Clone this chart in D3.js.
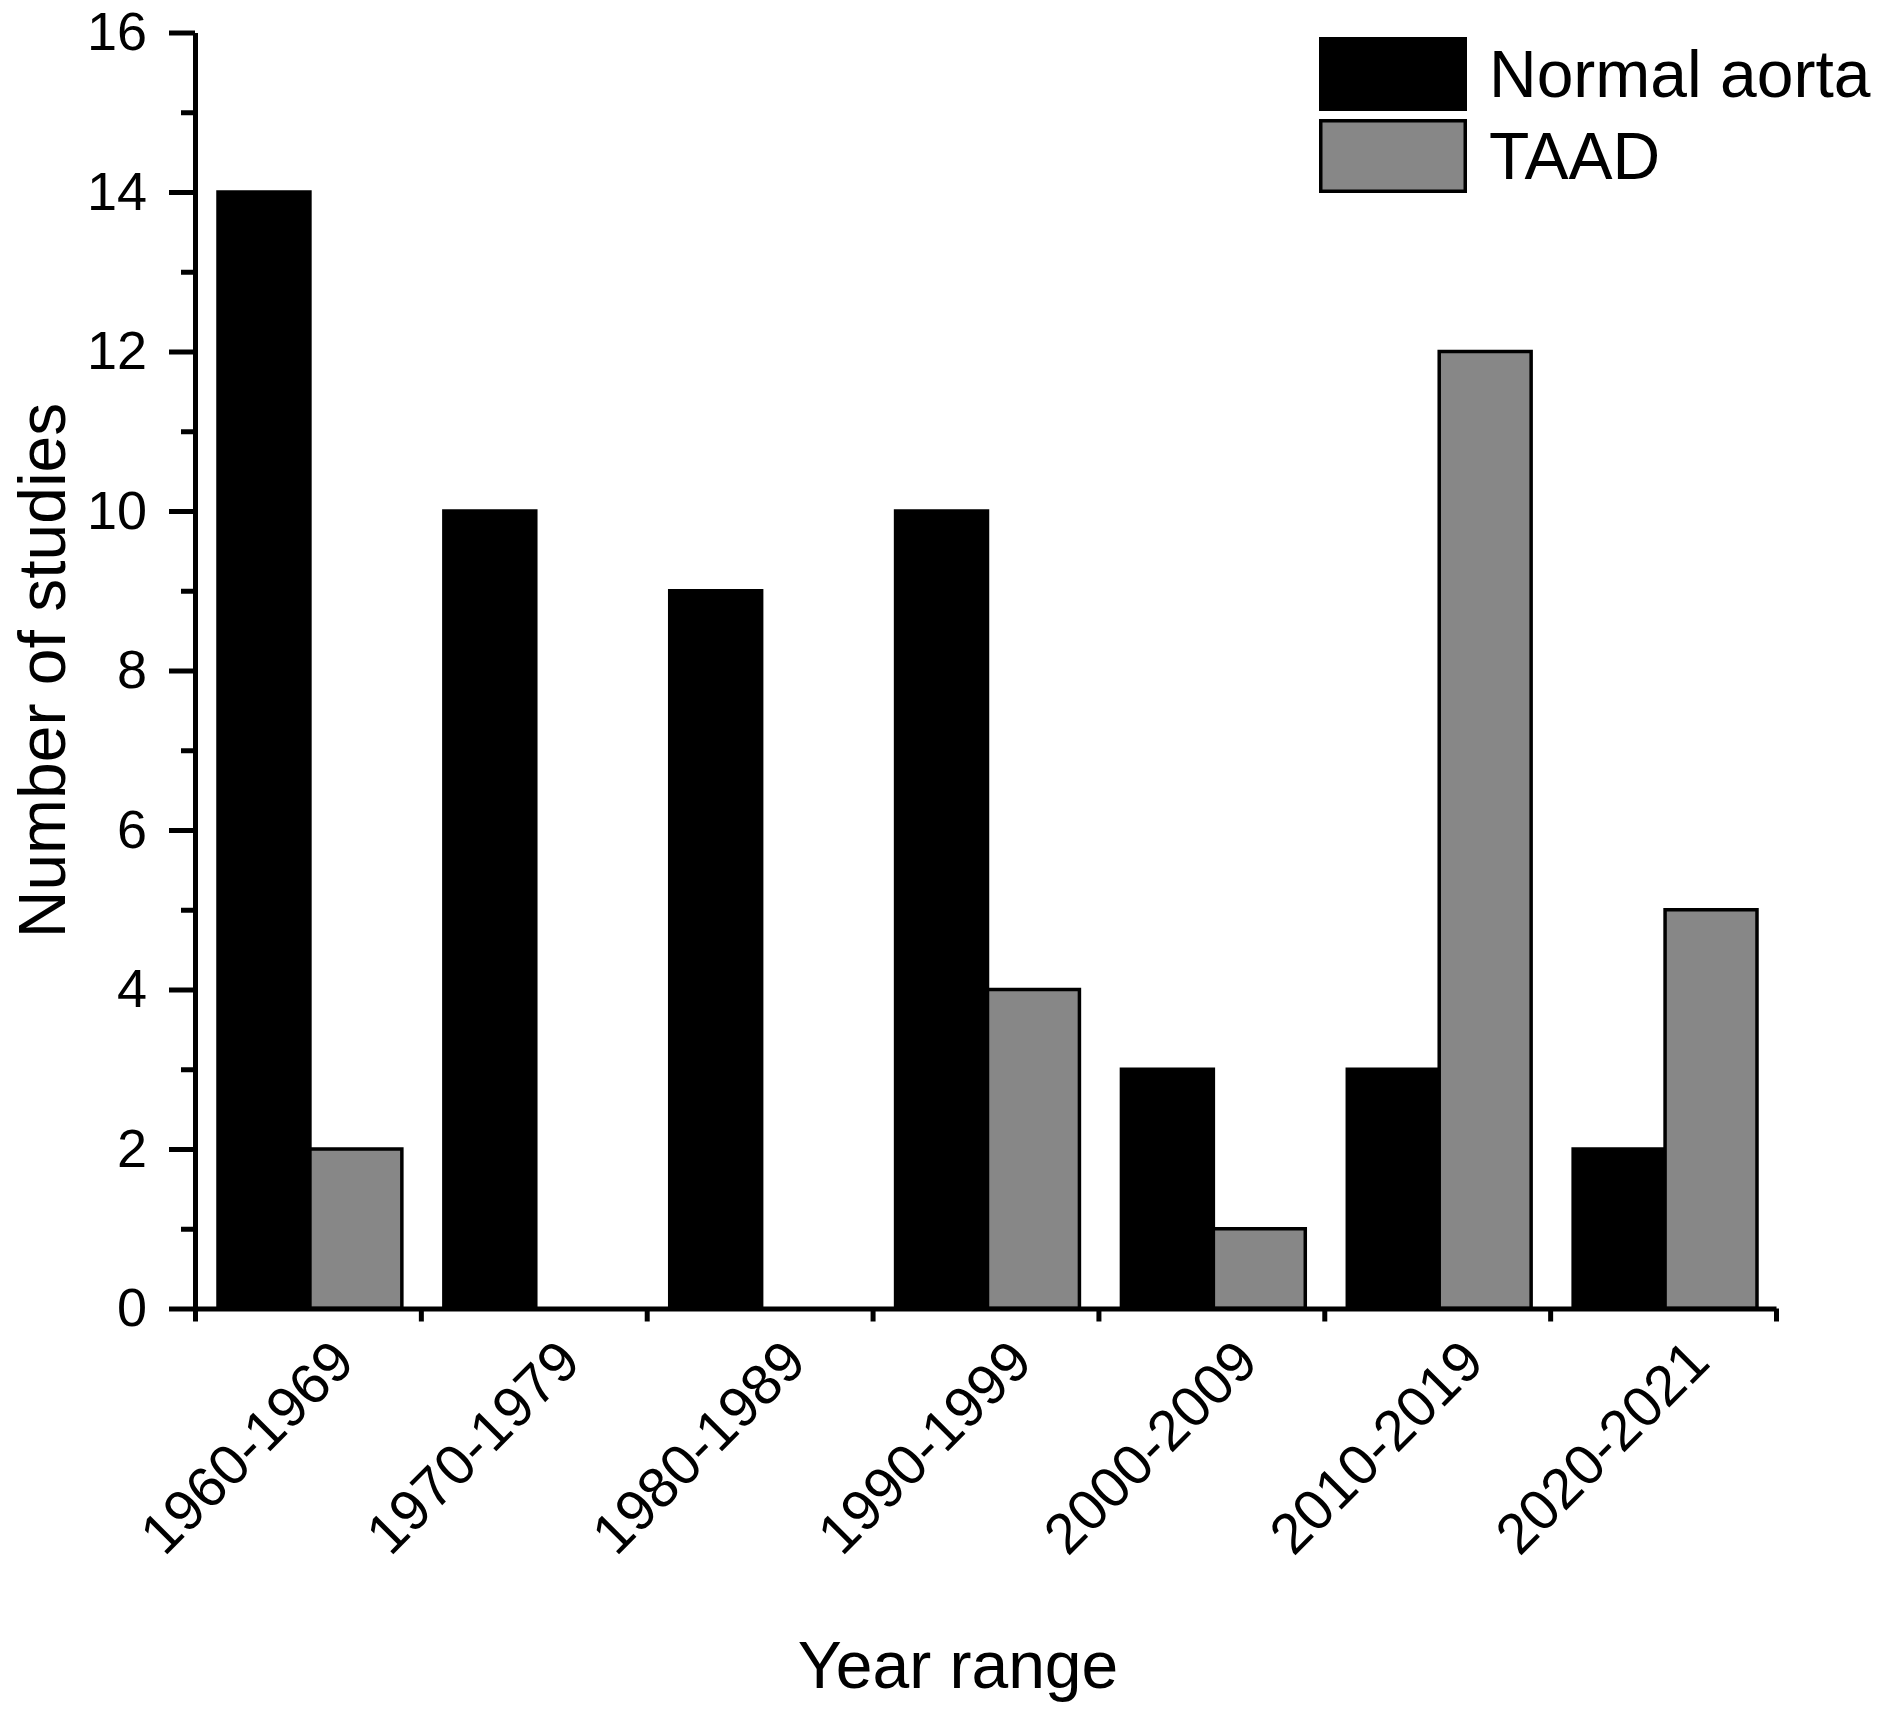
<!DOCTYPE html>
<html>
<head>
<meta charset="utf-8">
<script src="https://cdn.jsdelivr.net/npm/d3@7"></script>
<style>
  body { margin: 0; background: #fff; }
  text { font-family: "Liberation Sans", Arial, sans-serif; fill: #000; }
</style>
</head>
<body>
<div class="main"></div>
<script>
// Values
const categories = ["1960-1969", "1970-1979", "1980-1989", "1990-1999", "2000-2009", "2010-2019", "2020-2021"]
const normalAorta = [14, 10, 9, 10, 3, 3, 2]
const taad = [2, 0, 0, 4, 1, 12, 5]
const seriesNames = ["Normal aorta", "TAAD"]
const yTicks = [0, 2, 4, 6, 8, 10, 12, 14, 16]
const yMinorTicks = [1, 3, 5, 7, 9, 11, 13, 15]

const width = 1879
const height = 1713
const margin = ({top: 32.5, right: 103, bottom: 404.5, left: 195})
const colors = ["#000000", "#878787"]

function drawChart() {
    const svg = d3.select(".main")
        .append("svg")
        .attr("width", width)
        .attr("height", height)
        .attr("viewBox", [0, 0, width, height])

    const x0 = d3.scaleBand()
        .domain(categories)
        .range([margin.left, width - margin.right])
        .paddingInner(0.186)
        .paddingOuter(0.093)

    const x1 = d3.scaleBand()
        .domain(seriesNames)
        .range([0, x0.bandwidth()])

    // tick positions sit between the groups
    const xEdges = d3.scaleLinear()
        .domain([0, categories.length])
        .range([margin.left, width - margin.right])

    const y = d3.scaleLinear()
        .domain([0, 16])
        .range([height - margin.bottom, margin.top])

    const rows = categories.map((c, i) => ({cat: c, values: [normalAorta[i], taad[i]]}))

    // Bars
    const groups = svg.append("g")
        .attr("id", "bars")
        .selectAll("g")
        .data(rows)
        .join("g")
            .attr("transform", d => `translate(${x0(d.cat) + 2}, 0)`)

    groups.selectAll("rect")
        .data(d => d.values.map((v, j) => ({name: seriesNames[j], value: v, j: j})))
        .join("rect")
            .filter(d => d.value > 0)
            .attr("x", d => x1(d.name))
            .attr("y", d => y(d.value))
            .attr("width", x1.bandwidth())
            .attr("height", d => y(0) - y(d.value))
            .attr("fill", d => colors[d.j])
            .attr("stroke", "#000")
            .attr("stroke-width", 3.5)

    // Y axis
    const yAxis = svg.append("g")
        .attr("transform", `translate(${margin.left}, 0)`)
        .call(d3.axisLeft(y).tickValues(yTicks).tickSize(26).tickSizeOuter(0).tickPadding(22))
    yAxis.select(".domain").attr("stroke-width", 5)
    yAxis.selectAll(".tick line").attr("stroke-width", 5)
    yAxis.selectAll(".tick text")
        .attr("font-size", 54)
        .attr("font-family", "Liberation Sans, Arial, sans-serif")

    const yMinor = svg.append("g")
        .attr("transform", `translate(${margin.left}, 0)`)
        .call(d3.axisLeft(y).tickValues(yMinorTicks).tickSize(14).tickFormat(""))
    yMinor.select(".domain").remove()
    yMinor.selectAll(".tick line").attr("stroke-width", 5)

    // X axis
    const xAxis = svg.append("g")
        .attr("transform", `translate(0, ${y(0)})`)
        .call(d3.axisBottom(xEdges).tickValues(d3.range(categories.length + 1)).tickSize(13).tickSizeOuter(0).tickFormat(""))
    xAxis.select(".domain").attr("stroke-width", 5)
    xAxis.selectAll(".tick line").attr("stroke-width", 5)

    svg.append("g")
        .selectAll("text")
        .data(categories)
        .join("text")
            .attr("transform", d => `translate(${x0(d) + x0.bandwidth() / 2 + 35}, ${y(0) + 42}) rotate(-45)`)
            .attr("text-anchor", "end")
            .attr("dy", "0.35em")
            .attr("font-size", 57)
            .text(d => d)

    // Axis titles
    svg.append("text")
        .attr("transform", `translate(65, ${(y(0) + y(16)) / 2}) rotate(-90)`)
        .attr("text-anchor", "middle")
        .attr("font-size", 66)
        .text("Number of studies")

    svg.append("text")
        .attr("x", 958)
        .attr("y", 1688)
        .attr("text-anchor", "middle")
        .attr("font-size", 66)
        .text("Year range")

    // Legend
    const legend = svg.append("g")
        .attr("class", "legend")
        .attr("transform", "translate(1319, 37)")

    const item = legend.selectAll("g")
        .data(seriesNames)
        .join("g")
            .attr("transform", (_, i) => `translate(0, ${i * 82})`)

    item.append("rect")
        .attr("x", 1.75)
        .attr("y", 1.75)
        .attr("width", 144.5)
        .attr("height", 70.5)
        .attr("fill", (_, i) => colors[i])
        .attr("stroke", "#000")
        .attr("stroke-width", 3.5)

    item.append("text")
        .attr("x", 170)
        .attr("y", 60)
        .attr("font-size", 66)
        .text(d => d)
}

drawChart()
</script>
</body>
</html>
